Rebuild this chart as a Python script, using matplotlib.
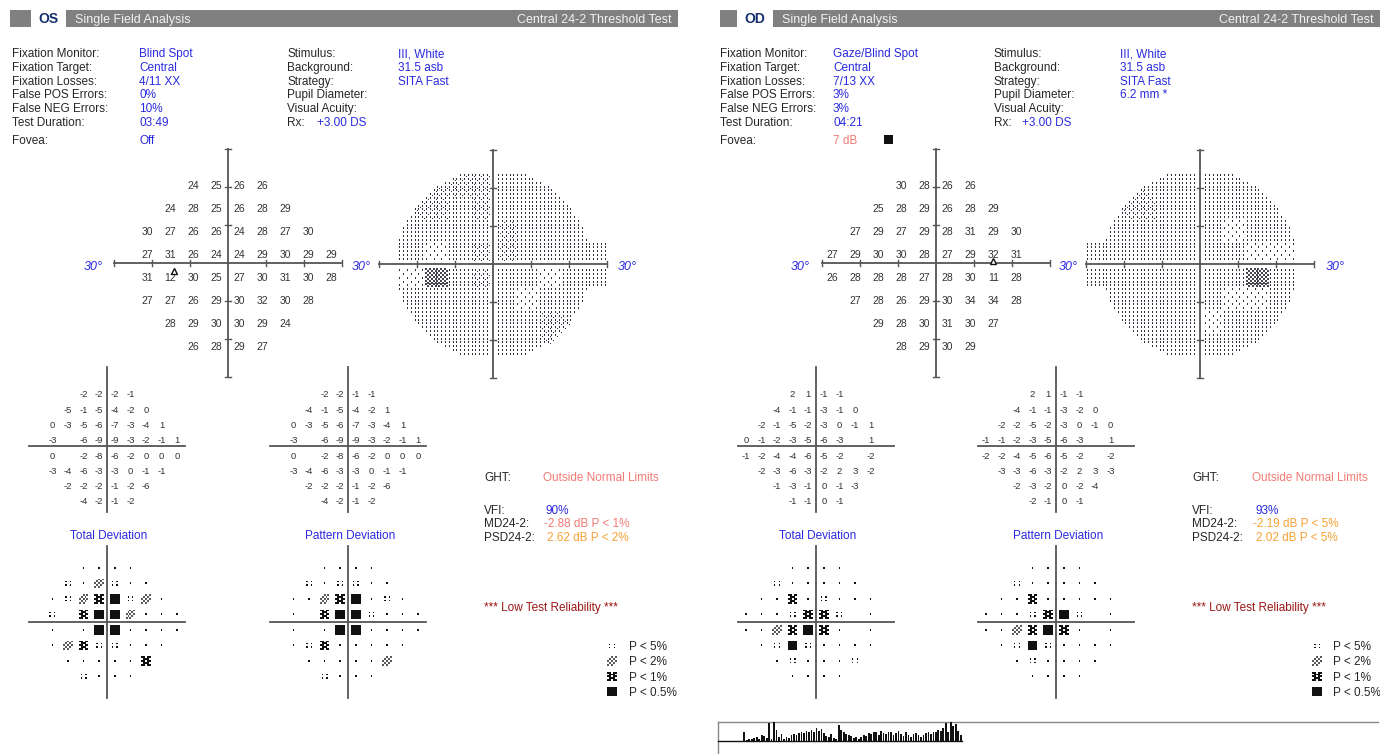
import matplotlib
matplotlib.use('Agg')
import matplotlib.pyplot as plt
from matplotlib.patches import Rectangle
from matplotlib.collections import PatchCollection
import numpy as np

plt.rcParams['font.family'] = ['Liberation Sans', 'DejaVu Sans']

# ---------------- data ----------------
info_labels_1 = ["Fixation Monitor:", "Fixation Target:", "Fixation Losses:",
                 "False POS Errors:", "False NEG Errors:", "Test Duration:"]
info_labels_2 = ["Stimulus:", "Background:", "Strategy:", "Pupil Diameter:",
                 "Visual Acuity:", "Rx:"]
os_values_1 = ["Blind Spot", "Central", "4/11 XX", "0%", "10%", "03:49"]
os_values_2 = ["III, White", "31.5 asb", "SITA Fast", "", "", ""]
od_values_1 = ["Gaze/Blind Spot", "Central", "7/13 XX", "3%", "3%", "04:21"]
od_values_2 = ["III, White", "31.5 asb", "SITA Fast", "6.2 mm *", "", ""]
os_rx = "+3.00 DS"
od_rx = "+3.00 DS"
os_fovea = "Off"
od_fovea = "7 dB"

os_row_start = [-2, -3, -4, -4, -4, -4, -3, -2]
od_row_start = [-2, -3, -4, -5, -5, -4, -3, -2]

os_threshold = [
    [24, 25, 26, 26],
    [24, 28, 25, 26, 28, 29],
    [30, 27, 26, 26, 24, 28, 27, 30],
    [27, 31, 26, 24, 24, 29, 30, 29, 29],
    [31, 12, 30, 25, 27, 30, 31, 30, 28],
    [27, 27, 26, 29, 30, 32, 30, 28],
    [28, 29, 30, 30, 29, 24],
    [26, 28, 29, 27],
]
od_threshold = [
    [30, 28, 26, 26],
    [25, 28, 29, 26, 28, 29],
    [27, 29, 27, 29, 28, 31, 29, 30],
    [27, 29, 30, 30, 28, 27, 29, 32, 31],
    [26, 28, 28, 28, 27, 28, 30, 11, 28],
    [27, 28, 26, 29, 30, 34, 34, 28],
    [29, 28, 30, 31, 30, 27],
    [28, 29, 30, 29],
]

N = None
os_total_dev = [
    [-2, -2, -2, -1],
    [-5, -1, -5, -4, -2, 0],
    [0, -3, -5, -6, -7, -3, -4, 1],
    [-3, N, -6, -9, -9, -3, -2, -1, 1],
    [0, N, -2, -8, -6, -2, 0, 0, 0],
    [-3, -4, -6, -3, -3, 0, -1, -1],
    [-2, -2, -2, -1, -2, -6],
    [-4, -2, -1, -2],
]
os_pattern_dev = [
    [-2, -2, -1, -1],
    [-4, -1, -5, -4, -2, 1],
    [0, -3, -5, -6, -7, -3, -4, 1],
    [-3, N, -6, -9, -9, -3, -2, -1, 1],
    [0, N, -2, -8, -6, -2, 0, 0, 0],
    [-3, -4, -6, -3, -3, 0, -1, -1],
    [-2, -2, -2, -1, -2, -6],
    [-4, -2, -1, -2],
]
od_total_dev = [
    [2, 1, -1, -1],
    [-4, -1, -1, -3, -1, 0],
    [-2, -1, -5, -2, -3, 0, -1, 1],
    [0, -1, -2, -3, -5, -6, -3, N, 1],
    [-1, -2, -4, -4, -6, -5, -2, N, -2],
    [-2, -3, -6, -3, -2, 2, 3, -2],
    [-1, -3, -1, 0, -1, -3],
    [-1, -1, 0, -1],
]
od_pattern_dev = [
    [2, 1, -1, -1],
    [-4, -1, -1, -3, -2, 0],
    [-2, -2, -5, -2, -3, 0, -1, 0],
    [-1, -1, -2, -3, -5, -6, -3, N, 1],
    [-2, -2, -4, -5, -6, -5, -2, N, -2],
    [-3, -3, -6, -3, -2, 2, 3, -3],
    [-2, -3, -2, 0, -2, -4],
    [-2, -1, 0, -1],
]

# probability codes: 0 normal, 1 P<5%, 2 P<2%, 3 P<1%, 4 P<0.5%
os_total_prob = [
    [0, 0, 0, 0],
    [1, 0, 2, 1, 0, 0],
    [0, 1, 2, 3, 4, 1, 2, 0],
    [1, N, 3, 4, 4, 2, 0, 0, 0],
    [0, N, 0, 4, 4, 0, 0, 0, 0],
    [0, 2, 3, 1, 1, 0, 0, 0],
    [0, 0, 0, 0, 0, 3],
    [1, 0, 0, 0],
]
os_pattern_prob = [
    [0, 0, 0, 0],
    [1, 0, 1, 1, 0, 0],
    [0, 0, 2, 3, 4, 0, 1, 0],
    [0, N, 3, 4, 4, 1, 0, 0, 0],
    [0, N, 0, 4, 4, 0, 0, 0, 0],
    [0, 1, 3, 0, 0, 0, 0, 0],
    [0, 0, 0, 0, 0, 2],
    [1, 0, 0, 0],
]
od_total_prob = [
    [0, 0, 0, 0],
    [1, 0, 0, 0, 0, 0],
    [0, 0, 3, 0, 1, 0, 0, 0],
    [0, 0, 0, 1, 3, 3, 1, N, 0],
    [0, 0, 2, 3, 4, 3, 0, N, 0],
    [0, 1, 4, 1, 0, 0, 0, 0],
    [0, 1, 0, 0, 0, 1],
    [0, 0, 0, 0],
]
od_pattern_prob = [
    [0, 0, 0, 0],
    [1, 0, 0, 0, 0, 0],
    [0, 0, 3, 0, 0, 0, 0, 0],
    [0, 0, 0, 1, 3, 4, 1, N, 0],
    [0, 0, 2, 3, 4, 3, 0, N, 0],
    [0, 1, 4, 1, 0, 0, 0, 0],
    [0, 1, 0, 0, 0, 0],
    [0, 0, 0, 0],
]

os_ght = "Outside Normal Limits"
od_ght = "Outside Normal Limits"
os_vfi, od_vfi = "90%", "93%"
os_md, od_md = "-2.88 dB P < 1%", "-2.19 dB P < 5%"
os_psd, od_psd = "2.62 dB P < 2%", "2.02 dB P < 5%"
legend_labels = ["P < 5%", "P < 2%", "P < 1%", "P < 0.5%"]
legend_codes = [1, 2, 3, 4]

gaze_values = [0.45, 0.05, 0.1, 0.08, 0.15, 0.2, 0.12, 0.3, 0.25, 0.15,
               0.95, 0.1, 1.0, 0.6, 0.2, 0.35, 0.1, 0.2, 0.15, 0.3,
               0.35, 0.3, 0.4, 0.45, 0.4, 0.55, 0.5, 0.6, 0.45, 0.7,
               0.55, 0.65, 0.4, 0.25, 0.2, 0.35, 0.15, 0.1, 0.85, 0.6,
               0.45, 0.35, 0.3, 0.25, 0.15, 0.2, 0.1, 0.2, 0.3, 0.25,
               0.4, 0.35, 0.5, 0.45, 0.3, 0.55, 0.4, 0.35, 0.45, 0.5,
               0.3, 0.4, 0.55, 0.35, 0.25, 0.45, 0.3, 0.2, 0.35, 0.4,
               0.3, 0.2, 0.3, 0.4, 0.45, 0.35, 0.5, 0.45, 0.6, 0.55,
               0.7, 0.95, 0.5, 1.0, 0.8, 0.9, 0.55, 0.3]

# ---------------- styling ----------------
W, H = 1380, 754
BLUE = '#2a2ae0'
SALMON = '#f27a74'
ORANGE = '#f6a136'
DARKRED = '#9c1616'
LABEL = '#262626'
AXC = '#555555'
PX_DEG = 3.8

fig = plt.figure(figsize=(W / 100, H / 100), dpi=100)
ax = fig.add_axes([0, 0, 1, 1])
ax.set_xlim(0, W)
ax.set_ylim(H, 0)
ax.axis('off')


def txt(x, y, s, size=8.5, color=LABEL, ha='left', **kw):
    # y is the visual centre of capitals
    ax.text(x, y + 0.358 * size * 100 / 72, s, fontsize=size, color=color,
            ha=ha, va='baseline', **kw)


def header(x0, x1, tag, tagx0, tagx1):
    ax.add_patch(Rectangle((x0, 10), x1 - x0, 17, color='#808080', lw=0))
    ax.add_patch(Rectangle((tagx0, 10), tagx1 - tagx0, 17, color='white', lw=0))
    txt((tagx0 + tagx1) / 2, 18.5, tag, size=10, color='#15306e', ha='center',
        weight='bold')
    txt(tagx1 + 9, 18.5, "Single Field Analysis", size=9, color='#f2f2f2')
    txt(x1 - 6, 18.5, "Central 24-2 Threshold Test", size=9, color='#f2f2f2',
        ha='right')


def info(xl, xv, xl2, xv2, vals1, vals2, rx, rxx):
    for i, (a, b) in enumerate(zip(info_labels_1, vals1)):
        y = 53 + i * 13.7
        txt(xl, y, a)
        txt(xv, y, b, color=BLUE)
    for i, (a, b) in enumerate(zip(info_labels_2, vals2)):
        y = 53 + i * 13.7
        txt(xl2, y, a)
        if b:
            txt(xv2, y, b, color=BLUE)
    txt(rxx, 53 + 5 * 13.7, rx, color=BLUE)


def cross(cx, cy, half=114, ticks=True):
    ax.plot([cx - half, cx + half], [cy, cy], color=AXC, lw=1.3, zorder=3)
    ax.plot([cx, cx], [cy - half, cy + half], color=AXC, lw=1.3, zorder=3)
    if ticks:
        for d in (-3, -2, -1, 1, 2, 3):
            p = d * 10 * PX_DEG
            ax.plot([cx + p, cx + p], [cy - 3, cy + 3], color=AXC, lw=1.0, zorder=3)
            ax.plot([cx - 3, cx + 3], [cy + p, cy + p], color=AXC, lw=1.0, zorder=3)


def grid_iter(starts, rows):
    for r, (s, row) in enumerate(zip(starts, rows)):
        for i, v in enumerate(row):
            yield s + i + 0.5, r - 3.5, v


def numbers(cx, cy, dx, dy, starts, rows, size, yoff=0.0):
    for gx, gy, v in grid_iter(starts, rows):
        if v is None:
            continue
        txt(cx + gx * dx, cy + gy * dy + yoff, str(v), size=size, color='#333333',
            ha='center')


P2_MASK = ["..X.X", ".X.X.", "X.X.X", ".X.X.", "X.X.."]
P1_MASK = ["XX.XX", ".XXX.", "XX.XX", ".XXX.", "XX.XX"]


def symbol(store, x, y, code):
    if code == 0:
        store['k'].append(Rectangle((x - 0.8, y - 0.8), 1.6, 1.6))
    elif code == 1:
        for ox in (-2.2, 2.2):
            for oy in (-1.7, 1.7):
                store['k'].append(Rectangle((x + ox - 0.7, y + oy - 0.7), 1.4, 1.4))
    elif code in (2, 3):
        mask = P2_MASK if code == 2 else P1_MASK
        key = 'g' if code == 2 else 'k'
        c = 1.9
        for i, row in enumerate(mask):
            for j, ch in enumerate(row):
                if ch == 'X':
                    store[key].append(Rectangle((x + (j - 2.5) * c, y + (i - 2.5) * c), c, c))
    elif code == 4:
        store['k'].append(Rectangle((x - 4.75, y - 4.75), 9.5, 9.5))


def flush(store):
    if store['k']:
        ax.add_collection(PatchCollection(store['k'], facecolor='#111111', lw=0, zorder=4))
    if store['g']:
        ax.add_collection(PatchCollection(store['g'], facecolor='#5a5a5a', lw=0, zorder=4))


def prob_plot(cx, cy, starts, rows, store, dx=15.6, dy=15.5):
    ax.plot([cx - 78, cx + 78], [cy, cy], color=AXC, lw=1.3, zorder=3)
    ax.plot([cx, cx], [cy - 76, cy + 76], color=AXC, lw=1.3, zorder=3)
    for gx, gy, v in grid_iter(starts, rows):
        if v is None:
            continue
        symbol(store, cx + gx * dx, cy + gy * dy, v)


def dev_plot(cx, cy, starts, rows, title):
    ax.plot([cx - 78, cx + 78], [cy, cy], color=AXC, lw=1.3, zorder=3)
    ax.plot([cx, cx], [cy - 79, cy + 66], color=AXC, lw=1.3, zorder=3)
    numbers(cx, cy, 15.6, 15.3, starts, rows, 6.8, yoff=1.5)
    txt(cx + 2, 535, title, size=8.5, color=BLUE, ha='center')


def greyscale(cx, cy, starts, thresh, nasal):
    pts, vals = [], []
    for gx, gy, v in grid_iter(starts, thresh):
        pts.append((gx * 6, gy * 6))
        vals.append(v)
    pts = np.array(pts, float)
    vals = np.array(vals, float)
    light, dark = [], []
    for iy, gy in enumerate(np.arange(-23.5, 24, 1.0)):
        for ix, gx in enumerate(np.arange(-29.5, 30, 1.0)):
            inside = (gx / 25.5) ** 2 + (gy / 25) ** 2 <= 1
            if abs(gy) < 6 and nasal * gx > 0 and abs(gx) <= 30:
                inside = True
            if not inside or abs(gx) < 1 or abs(gy) < 1:
                continue
            v = vals[np.argmin(((pts - (gx, gy)) ** 2).sum(axis=1))]
            px = np.floor(cx + gx * PX_DEG)
            py = np.floor(cy + gy * PX_DEG)
            if v >= 31:
                if (ix + iy) % 2 == 0:
                    light.append(Rectangle((px, py), 1, 1))
                    light.append(Rectangle((px, py + 1), 1, 1))
            elif v >= 26:
                light.append(Rectangle((px, py), 1, 1))
                light.append(Rectangle((px, py + 1), 1, 1))
            elif v >= 21:
                light.append(Rectangle((px, py), 1, 1))
                light.append(Rectangle((px, py + 1), 1, 1))
                if (ix + iy) % 2 == 0:
                    light.append(Rectangle((px + 2, py + 2), 1, 1))
            elif v >= 16:
                light.append(Rectangle((px, py), 2, 2))
                light.append(Rectangle((px + 2, py + 2), 1, 1))
            else:
                dark.append(Rectangle((px - 1, py - 1), 2, 2))
                dark.append(Rectangle((px + 1, py + 1), 2, 2))
    ax.add_collection(PatchCollection(light, facecolor='#30303c', lw=0, zorder=2,
                                      antialiased=False))
    ax.add_collection(PatchCollection(dark, facecolor='#45454f', lw=0, zorder=2,
                                      antialiased=False))


def summary(xl, xv, ght, vfi, md, mdc, psd, psdc):
    txt(xl, 477, "GHT:")
    txt(xv, 477, ght, color=SALMON)
    txt(xl, 510, "VFI:")
    txt(xv + 3, 510, vfi, color=BLUE)
    txt(xl, 523, "MD24-2:")
    txt(xv + 1, 523, md, color=mdc)
    txt(xl, 537, "PSD24-2:")
    txt(xv + 4, 537, psd, color=psdc)
    txt(xl, 607, "*** Low Test Reliability ***", color=DARKRED)


def legend(xs, xt, store):
    for i, (lab, code) in enumerate(zip(legend_labels, legend_codes)):
        y = 646 + i * 15.2
        symbol(store, xs, y, code)
        txt(xt, y, lab)


store = {'k': [], 'g': []}

# ================= OS =================
header(10, 678, "OS", 31, 66)
info(12, 139, 287, 398, os_values_1, os_values_2, os_rx, 317)
txt(12, 140, "Fovea:")
txt(139, 140, os_fovea, color=BLUE)

cross(228, 263)
numbers(228, 263, 23, 23, os_row_start, os_threshold, 7.5, yoff=2.5)
ax.plot([174], [271], marker='^', ms=5, mfc='white', mec='#111', mew=1, zorder=5)
greyscale(493, 264, os_row_start, os_threshold, +1)
cross(493, 264)
for x in (93, 361, 627):
    txt(x, 266, "30°", size=9, color=BLUE, ha='center', style='italic')

dev_plot(107, 446, os_row_start, os_total_dev, "Total Deviation")
dev_plot(348, 446, os_row_start, os_pattern_dev, "Pattern Deviation")
prob_plot(107, 622, os_row_start, os_total_prob, store)
prob_plot(348, 622, os_row_start, os_pattern_prob, store)
summary(484, 543, os_ght, os_vfi, os_md, SALMON, os_psd, ORANGE)
legend(612, 629, store)

# ================= OD =================
header(720, 1380, "OD", 737, 773)
info(720, 833, 994, 1120, od_values_1, od_values_2, od_rx, 1022)
txt(720, 140, "Fovea:")
txt(833, 140, od_fovea, color=SALMON)
ax.add_patch(Rectangle((884, 134.5), 9, 9, color='#111', lw=0))

cross(936, 263)
numbers(936, 263, 23, 23, od_row_start, od_threshold, 7.5, yoff=2.5)
ax.plot([993], [261], marker='^', ms=5, mfc='white', mec='#111', mew=1, zorder=5)
greyscale(1200, 264, od_row_start, od_threshold, -1)
cross(1200, 264)
for x in (800, 1068, 1335):
    txt(x, 266, "30°", size=9, color=BLUE, ha='center', style='italic')

dev_plot(816, 446, od_row_start, od_total_dev, "Total Deviation")
dev_plot(1056, 446, od_row_start, od_pattern_dev, "Pattern Deviation")
prob_plot(816, 622, od_row_start, od_total_prob, store)
prob_plot(1056, 622, od_row_start, od_pattern_prob, store)
summary(1192, 1252, od_ght, od_vfi, od_md, ORANGE, od_psd, ORANGE)
legend(1317, 1333, store)

flush(store)

# gaze tracking box (OD)
ax.plot([718, 1378], [722, 722], color='#888888', lw=1)
ax.plot([718, 718], [722, 754], color='#888888', lw=1)
ax.plot([718, 962], [741, 741], color='#111111', lw=1)
gx0, gx1 = 743, 962
gax = fig.add_axes([gx0 / W, 1 - 741 / H, (gx1 - gx0) / W, 19 / H])
gax.bar(np.arange(len(gaze_values)), gaze_values, width=0.7, color='#111111')
gax.set_xlim(-0.5, len(gaze_values) - 0.5)
gax.set_ylim(0, 1)
gax.axis('off')

fig.savefig('out.png', dpi=100)
